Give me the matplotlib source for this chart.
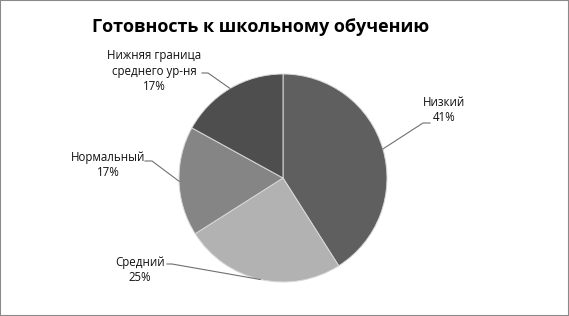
#!/usr/bin/env python3

import math
import matplotlib
matplotlib.use('Agg')
import matplotlib.pyplot as plt
from matplotlib.patches import Rectangle

plt.rcParams['font.family'] = ['Open Sans', 'DejaVu Sans']

title = "Готовность к школьному обучению"
labels = ["Низкий", "Средний", "Нормальный", "Нижняя граница\nсреднего ур-ня"]
values = [41, 25, 17, 17]
colors = ['#5f5f5f', '#b2b2b2', '#858585', '#4e4e4e']

# label placement in pixels (text centre) and elbow of the leader line
text_px = [(444, 110), (140, 270), (108, 165), (154, 71)]
elbow_px = [(423, 123), (172, 264), (152, 161), (208, 73)]
elbow_end_px = [(430, 123), (167, 264), (145, 161), (202, 73)]

W, H = 569, 316
cx, cy, R = 283, 178, 104


def to_data(p):
    return ((p[0] - cx) / R, (cy - p[1]) / R)


fig = plt.figure(figsize=(W / 100, H / 100), dpi=100)
ax = fig.add_axes([0, 0, 1, 1])

wedges, _ = ax.pie(values, colors=colors, startangle=90, counterclock=False,
                   radius=1, center=(0, 0),
                   wedgeprops=dict(edgecolor='#d8d8d8', linewidth=0.7))

ax.set_xlim(-cx / R, (W - cx) / R)
ax.set_ylim(-(H - cy) / R, cy / R)
ax.set_aspect('equal')
ax.axis('off')

for w, lab, v, tp, ep, ee in zip(wedges, labels, values, text_px, elbow_px, elbow_end_px):
    mid = math.radians((w.theta1 + w.theta2) / 2)
    px = (math.cos(mid), math.sin(mid))
    e1 = to_data(ep)
    e2 = to_data(ee)
    ax.plot([px[0], e1[0], e2[0]], [px[1], e1[1], e2[1]], color='#707070', lw=0.8)
    tx, ty = to_data(tp)
    ax.text(tx, ty, "%s\n%d%%" % (lab, v), ha='center', va='center',
            fontsize=8.3, color='#111111', linespacing=1.25)

fig.text(261 / W, 1 - 27 / H, title, ha='center', va='center',
         fontsize=13, fontweight='bold', color='black')

fig.patches.append(Rectangle((0, 0), 1, 1, transform=fig.transFigure,
                             fill=False, edgecolor='#8a8a8a', linewidth=1.5))

plt.savefig("out.png", dpi=100)
